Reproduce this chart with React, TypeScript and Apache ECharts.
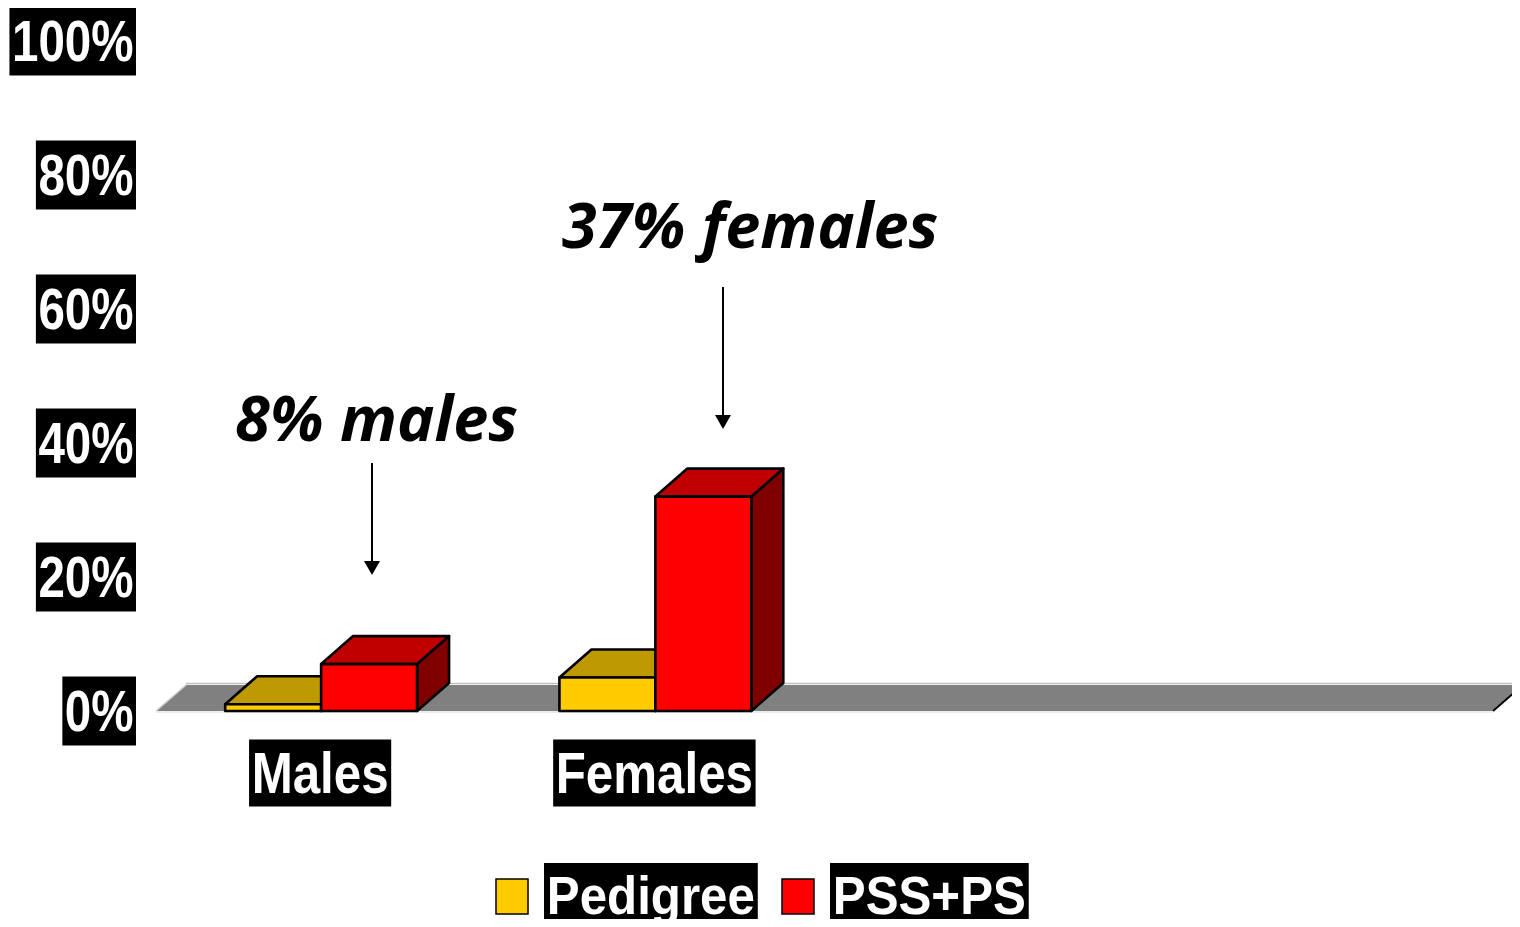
import React, { useEffect, useRef } from "react";
import * as echarts from "echarts";

const categories = ["Males", "Females", "", ""];
const seriesNames = ["Pedigree", "PSS+PS"];
const pedigreeValues = [1, 5];
const pssValues = [7, 32];
const yTicks = [0, 20, 40, 60, 80, 100];
const annotationTexts = ["8% males", "37% females"];

// layout of the annotation texts and arrows (pixels)
const ANNOT_LAYOUT = [
  { textX: 235, textY: 416, arrowX: 372, arrowTop: 463, arrowTip: 575 },
  { textX: 562, textY: 223, arrowX: 723, arrowTop: 287, arrowTip: 429 },
];

const FONT_FAMILY = "'Liberation Sans', Arial, sans-serif";
const ANNOT_FONT = "italic bold 63px 'Open Sans', 'DejaVu Sans', sans-serif";

const FRONT = ["#FFCC00", "#FF0000"];
const TOP = ["#BF9900", "#C00000"];
const SIDE = ["#806600", "#800000"];
const DX = 32;
const DY = -28;
const FLOOR_DX = 30;
const FLOOR_DY = -26;
const BAR_RATIO = 0.287;
const GRID = { left: 156, right: 27, top: 41, bottom: 216 };

function bar3D(sIdx: number) {
  return (params: any, api: any) => {
    const cat = api.value(0);
    const val = api.value(1);
    const band = api.size([1, 0])[0];
    const w = band * BAR_RATIO;
    const top = api.coord([cat, val]);
    const base = api.coord([cat, 0]);
    const cx = top[0] - 2;
    const xl = cx - w + sIdx * w;
    const xr = xl + w;
    const yt = top[1];
    const yb = base[1];
    const stroke = { stroke: "#000", lineWidth: 2.6, lineJoin: "round" };
    return {
      type: "group",
      children: [
        {
          type: "polygon",
          shape: { points: [[xr, yb], [xr + DX, yb + DY], [xr + DX, yt + DY], [xr, yt]] },
          style: { fill: SIDE[sIdx], ...stroke },
        },
        {
          type: "polygon",
          shape: { points: [[xl, yt], [xl + DX, yt + DY], [xr + DX, yt + DY], [xr, yt]] },
          style: { fill: TOP[sIdx], ...stroke },
        },
        {
          type: "rect",
          shape: { x: xl, y: yt, width: w, height: yb - yt },
          style: { fill: FRONT[sIdx], ...stroke },
        },
      ],
    };
  };
}

function floorRender(params: any) {
  const cs = params.coordSys;
  const x0 = cs.x;
  const x1 = cs.x + cs.width;
  const y0 = cs.y + cs.height;
  return {
    type: "group",
    children: [
      {
        type: "polygon",
        shape: { points: [[x0, y0], [x0 + FLOOR_DX, y0 + FLOOR_DY], [x1 + FLOOR_DX, y0 + FLOOR_DY], [x1, y0]] },
        style: { fill: "#808080" },
      },
      {
        type: "line",
        shape: { x1: x0 + FLOOR_DX, y1: y0 + FLOOR_DY - 1.5, x2: x1 + FLOOR_DX, y2: y0 + FLOOR_DY - 1.5 },
        style: { stroke: "#C0C0C0", lineWidth: 1.5 },
      },
      {
        type: "line",
        shape: { x1: x0, y1: y0 + 1, x2: x1, y2: y0 + 1 },
        style: { stroke: "#E6E6E6", lineWidth: 1.5 },
      },
      {
        type: "line",
        shape: { x1: x0, y1: y0, x2: x0 + FLOOR_DX, y2: y0 + FLOOR_DY },
        style: { stroke: "#D0D0D0", lineWidth: 1.5 },
      },
      {
        type: "line",
        shape: { x1: x1, y1: y0, x2: x1 + FLOOR_DX, y2: y0 + FLOOR_DY },
        style: { stroke: "#000", lineWidth: 2 },
      },
    ],
  };
}

function arrow(x: number, y1: number, y2: number) {
  return [
    { type: "line", shape: { x1: x, y1, x2: x, y2: y2 - 12 }, style: { stroke: "#000", lineWidth: 2 } },
    {
      type: "polygon",
      shape: { points: [[x - 8, y2 - 14], [x + 8, y2 - 14], [x, y2]] },
      style: { fill: "#000" },
    },
  ];
}

function boxLabel(
  text: string,
  x: number,
  y: number,
  align: string,
  size: number,
  scaleX: number,
  lineHeight: number,
  padding: number[]
) {
  return {
    type: "group",
    x,
    y,
    scaleX,
    children: [
      {
        type: "text",
        style: {
          text,
          font: `bold ${size}px ${FONT_FAMILY}`,
          fill: "#fff",
          backgroundColor: "#000",
          padding,
          lineHeight,
          align,
          verticalAlign: "middle",
        },
      },
    ],
  };
}

export default function App() {
  const ref = useRef<HTMLDivElement>(null);
  useEffect(() => {
    if (!ref.current) return;
    const chart = echarts.init(ref.current, undefined, { renderer: "svg" });
    chart.setOption({
      animation: false,
      backgroundColor: "#fff",
      grid: { ...GRID, containLabel: false, outerBoundsMode: "none" },
      xAxis: {
        type: "category",
        data: categories,
        axisLine: { show: false },
        axisTick: { show: false },
        splitLine: { show: false },
        axisLabel: { show: false },
      },
      yAxis: {
        type: "value",
        min: yTicks[0],
        max: yTicks[yTicks.length - 1],
        interval: yTicks[1] - yTicks[0],
        axisLine: { show: false },
        axisTick: { show: false },
        splitLine: { show: false },
        axisLabel: { show: false },
      },
      series: [
        {
          type: "custom",
          name: "floor",
          renderItem: floorRender,
          data: [[0, 0]],
          z: 1,
          silent: true,
        },
        {
          type: "custom",
          name: seriesNames[0],
          renderItem: bar3D(0),
          data: pedigreeValues.map((v, i) => [i, v]),
          itemStyle: { color: FRONT[0] },
          encode: { x: 0, y: 1 },
          z: 2,
        },
        {
          type: "custom",
          name: seriesNames[1],
          renderItem: bar3D(1),
          data: pssValues.map((v, i) => [i, v]),
          itemStyle: { color: FRONT[1] },
          encode: { x: 0, y: 1 },
          z: 3,
        },
      ],
    });

    const toX = (i: number) => chart.convertToPixel({ xAxisIndex: 0 }, i) as number;
    const toY = (v: number) => chart.convertToPixel({ yAxisIndex: 0 }, v) as number;
    const baseY = toY(0);

    const yLabels = yTicks.map((v) =>
      boxLabel(`${v}%`, GRID.left - 20, toY(v), "right", 58, 0.82, 60, [5, 3, 4, 3])
    );
    const xLabels = categories
      .map((c, i) =>
        c ? boxLabel(c, toX(i) - 3, baseY + 62, "center", 58, 0.85, 58, [5, 3, 4, 3]) : null
      )
      .filter(Boolean);

    // legend
    const legendY = 896;
    const legendItems: any[] = [];
    const legendIconX = [496, 782];
    seriesNames.forEach((name, i) => {
      legendItems.push({
        type: "rect",
        shape: { x: legendIconX[i], y: legendY - 17, width: 32, height: 35 },
        style: { fill: FRONT[i], stroke: "#000", lineWidth: 1.5 },
      });
      legendItems.push(
        boxLabel(name, legendIconX[i] + 48, legendY, "left", 53, 0.93, 58, [4, 3, 4, 3])
      );
    });

    const annGraphics: any[] = [];
    annotationTexts.forEach((t, i) => {
      const L = ANNOT_LAYOUT[i];
      annGraphics.push({
        type: "text",
        x: L.textX,
        y: L.textY,
        style: { text: t, fill: "#000", font: ANNOT_FONT, verticalAlign: "middle" },
      });
      annGraphics.push(...arrow(L.arrowX, L.arrowTop, L.arrowTip));
    });

    chart.setOption({
      graphic: [...yLabels, ...xLabels, ...legendItems, ...annGraphics],
    });
    return () => chart.dispose();
  }, []);
  return <div ref={ref} style={{ width: 1520, height: 927, margin: -8 }} />;
}
